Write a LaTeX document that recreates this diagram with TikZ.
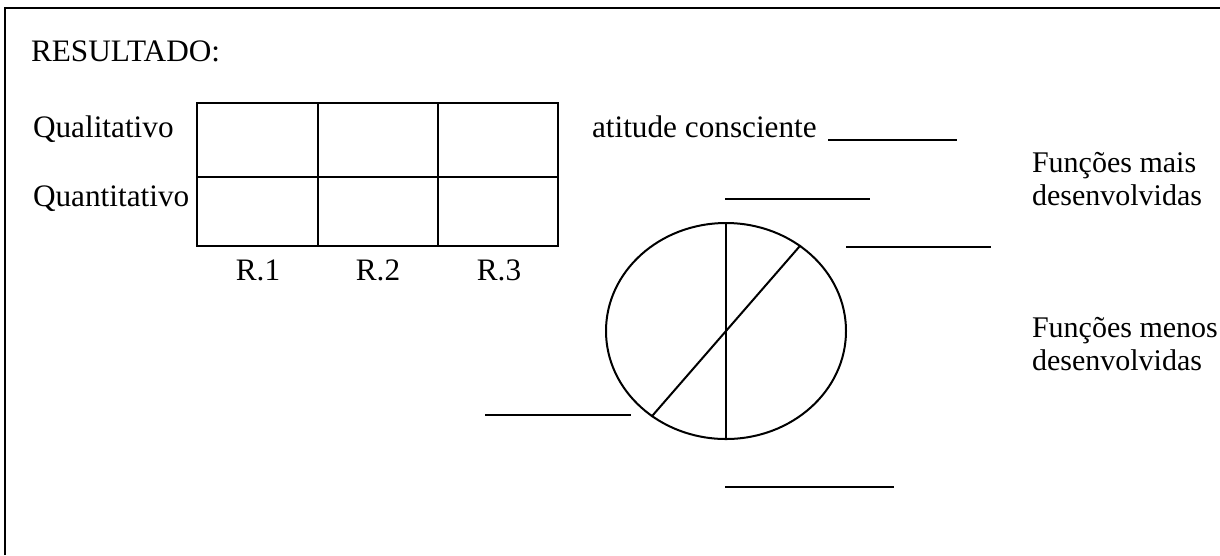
\documentclass[tikz,border=0pt]{standalone}
\usepackage{fontspec}
\setmainfont{Liberation Serif}
\usetikzlibrary{shapes.geometric}

\begin{document}
\begin{tikzpicture}[x=0.4pt, y=-0.4pt, line width=0.8pt,
  every node/.style={inner sep=0pt, font=\fontsize{12.5pt}{14pt}\selectfont},
  txt/.style={anchor=base west},
  side/.style={txt, align=left, font=\fontsize{12pt}{13.2pt}\selectfont},
  blank/.style={line width=0.7pt}]
  \useasboundingbox (0,0) rectangle (1220,555);
  % frame, open at right and bottom
  \draw (5,555) -- (5,8) -- (1220,8);
  \node[txt] (res) at (30,61) {RESULTADO:};
  % result table
  \node[txt] (qual) at (32,137) {Qualitativo};
  \node[txt] (quan) at (32,206) {Quantitativo};
  \draw (197,103) rectangle (558,246);
  \draw (197,177) -- (558,177);
  \draw (318,103) -- (318,246);
  \draw (438,103) -- (438,246);
  \node[anchor=base] (r1) at (258,280) {R.1};
  \node[anchor=base] (r2) at (378,280) {R.2};
  \node[anchor=base] (r3) at (499,280) {R.3};
  % attitude
  \node[txt] (atit) at (591,137) {atitude consciente};
  \draw[blank] (828,140) -- (957,140);
  % functions circle
  \node[draw, ellipse, minimum width=96pt, minimum height=86.4pt] (circ) at (726,331) {};
  \draw (circ.north) -- (circ.south);
  \draw (circ.49) -- (circ.229);
  \draw[blank] (725,199) -- (870,199);
  \draw[blank] (846,247) -- (991,247);
  \draw[blank] (485,415) -- (631,415);
  \draw[blank] (725,487) -- (894,487);
  \node[side] (mais) at (1031,205) {Funções mais\\desenvolvidas};
  \node[side] (menos) at (1031,370) {Funções menos\\desenvolvidas};
\end{tikzpicture}
\end{document}
